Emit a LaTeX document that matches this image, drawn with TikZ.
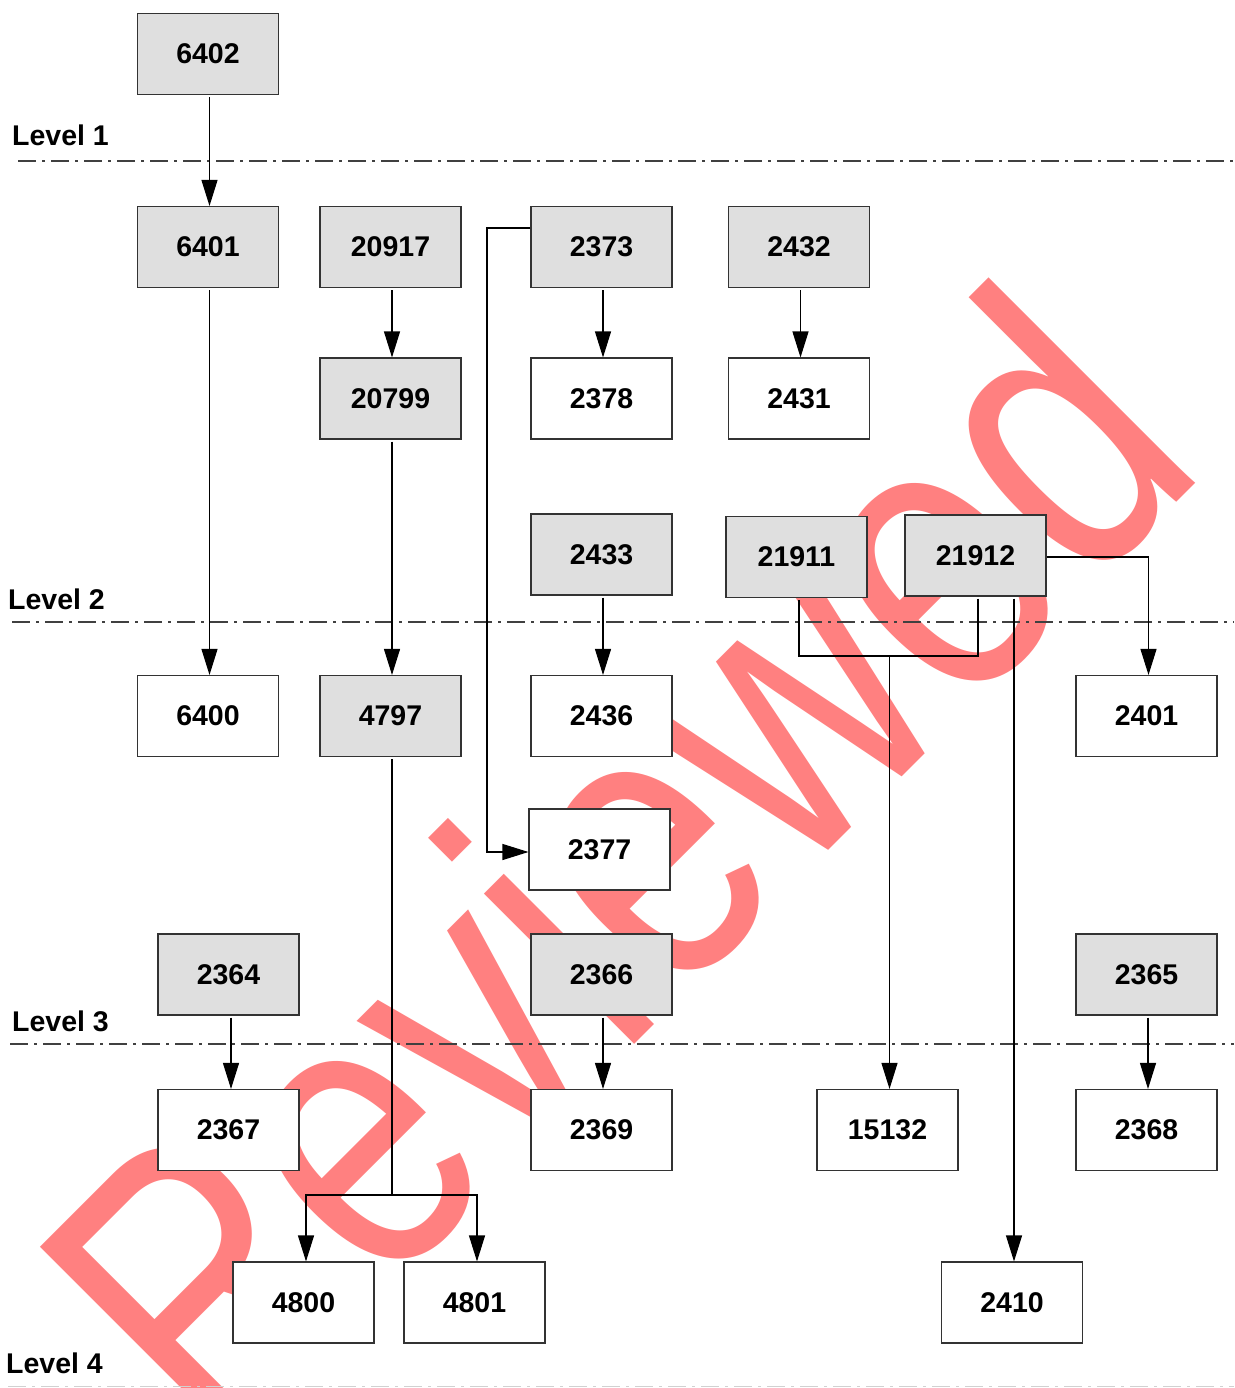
\documentclass[tikz,border=0pt]{standalone}
\usepackage{fontspec}
\setmainfont{Liberation Sans}
\newfontfamily\wmfont{Liberation Sans}
\usepackage{graphicx}
\usetikzlibrary{arrows.meta}
\definecolor{boxgray}{HTML}{DFDFDF}
\definecolor{wmred}{HTML}{FF8080}
\definecolor{lvlline}{HTML}{404040}
\tikzset{
 box/.style={draw=black!80, line width=1.1pt, minimum width=141pt, minimum height=81pt, inner sep=0pt, font=\fontsize{28.5pt}{30pt}\selectfont\bfseries, anchor=center},
 graybox/.style={box, fill=boxgray},
 whitebox/.style={box, fill=white},
 conn/.style={line width=1.1pt, black, shorten <=2pt},
 arr/.style={conn, -{Triangle[length=26pt,width=16pt]}},
 levelline/.style={draw=lvlline, line width=1.3pt, dash pattern=on 18pt off 6pt on 3pt off 6pt},
 levellabel/.style={anchor=base west, inner sep=0pt, font=\fontsize{28.5pt}{30pt}\selectfont\bfseries},
}
\begin{document}
\begin{tikzpicture}[x=1pt,y=-1pt]
\useasboundingbox (0,0) rectangle (1234,1388);
\fill[white] (0,0) rectangle (1234,1388);
% watermark
\node[anchor=base west, inner sep=0pt, rotate=45, text=wmred, font=\wmfont\fontsize{320pt}{320pt}\selectfont] (wm) at (217,1462) {\scalebox{1}[1.257]{Reviewed}};
% level lines
\draw[levelline] (18,161) -- (1234,161);
\draw[levelline] (12,622) -- (1234,622);
\draw[levelline] (10,1044) -- (1234,1044);
\draw[levelline, draw=black!18] (8,1386.5) -- (1234,1386.5);
\node[levellabel] (l1) at (12,146) {Level 1};
\node[levellabel] (l2) at (8,609) {Level 2};
\node[levellabel] (l3) at (12,1031) {Level 3};
\node[levellabel] (l4) at (6,1373) {Level 4};
% boxes
\node[graybox] (n6402) at (208,54) {6402};
\node[graybox] (n6401) at (208,247) {6401};
\node[graybox] (n20917) at (390.5,247) {20917};
\node[graybox] (n2373) at (601.5,247) {2373};
\node[graybox] (n2432) at (799,247) {2432};
\node[graybox] (n20799) at (390.5,398.5) {20799};
\node[whitebox] (n2378) at (601.5,398.5) {2378};
\node[whitebox] (n2431) at (799,398.5) {2431};
\node[graybox] (n2433) at (601.5,554.5) {2433};
\node[graybox] (n21911) at (796.5,557) {21911};
\node[graybox] (n21912) at (975.5,555.5) {21912};
\node[whitebox] (n6400) at (208,716) {6400};
\node[graybox] (n4797) at (390.5,716) {4797};
\node[whitebox] (n2436) at (601.5,716) {2436};
\node[whitebox] (n2401) at (1146.5,716) {2401};
\node[whitebox] (n2377) at (599.5,849.5) {2377};
\node[graybox] (n2364) at (228.5,974.5) {2364};
\node[graybox] (n2366) at (601.5,974.5) {2366};
\node[graybox] (n2365) at (1146.5,974.5) {2365};
\node[whitebox] (n2367) at (228.5,1130) {2367};
\node[whitebox] (n2369) at (601.5,1130) {2369};
\node[whitebox] (n15132) at (887.5,1130) {15132};
\node[whitebox] (n2368) at (1146.5,1130) {2368};
\node[whitebox] (n4800) at (303.5,1302.5) {4800};
\node[whitebox] (n4801) at (474.5,1302.5) {4801};
\node[whitebox] (n2410) at (1012,1302.5) {2410};
% connectors
\draw[arr] ([xshift=1.5pt]n6402.south) -- ([xshift=1.5pt]n6401.north);
\draw[arr] ([xshift=1.5pt]n6401.south) -- ([xshift=1.5pt]n6400.north);
\draw[arr] ([xshift=1.5pt]n20917.south) -- ([xshift=1.5pt]n20799.north);
\draw[arr] ([xshift=1.5pt]n20799.south) -- ([xshift=1.5pt]n4797.north);
\draw[arr] ([xshift=1.5pt]n2373.south) -- ([xshift=1.5pt]n2378.north);
\draw[arr] ([xshift=1.5pt]n2432.south) -- ([xshift=1.5pt]n2431.north);
\draw[arr] ([xshift=1.5pt]n2433.south) -- ([xshift=1.5pt]n2436.north);
\draw[arr] ([xshift=2.5pt]n2364.south) -- ([xshift=2.5pt]n2367.north);
\draw[arr] ([xshift=1.5pt]n2366.south) -- ([xshift=1.5pt]n2369.north);
\draw[arr] ([xshift=1.5pt]n2365.south) -- ([xshift=1.5pt]n2368.north);
\coordinate (c1) at (487,228);
\draw[arr, shorten <=0pt] ([yshift=19pt]n2373.west) -- (c1) |- ([yshift=-2.5pt]n2377.west);
\draw[arr, shorten <=0pt] ([yshift=-1.5pt]n21912.east) -| ([xshift=2pt]n2401.north);
\coordinate (j) at (889.5,656);
\draw[conn] ([xshift=2.5pt]n21911.south) |- (j);
\draw[conn] ([xshift=2.5pt]n21912.south) |- (j);
\draw[arr, shorten <=0pt] (j) -- (j |- n15132.north);
\draw[arr] ([xshift=2pt]n2410.north |- n21912.south) -- ([xshift=2pt]n2410.north);
\coordinate (k) at (392,1195);
\draw[conn] ([xshift=1.5pt]n4797.south) -- (k);
\draw[arr, shorten <=0pt] (k) -| ([xshift=2.5pt]n4800.north);
\draw[arr, shorten <=0pt] (k) -| ([xshift=2.5pt]n4801.north);
\end{tikzpicture}
\end{document}
